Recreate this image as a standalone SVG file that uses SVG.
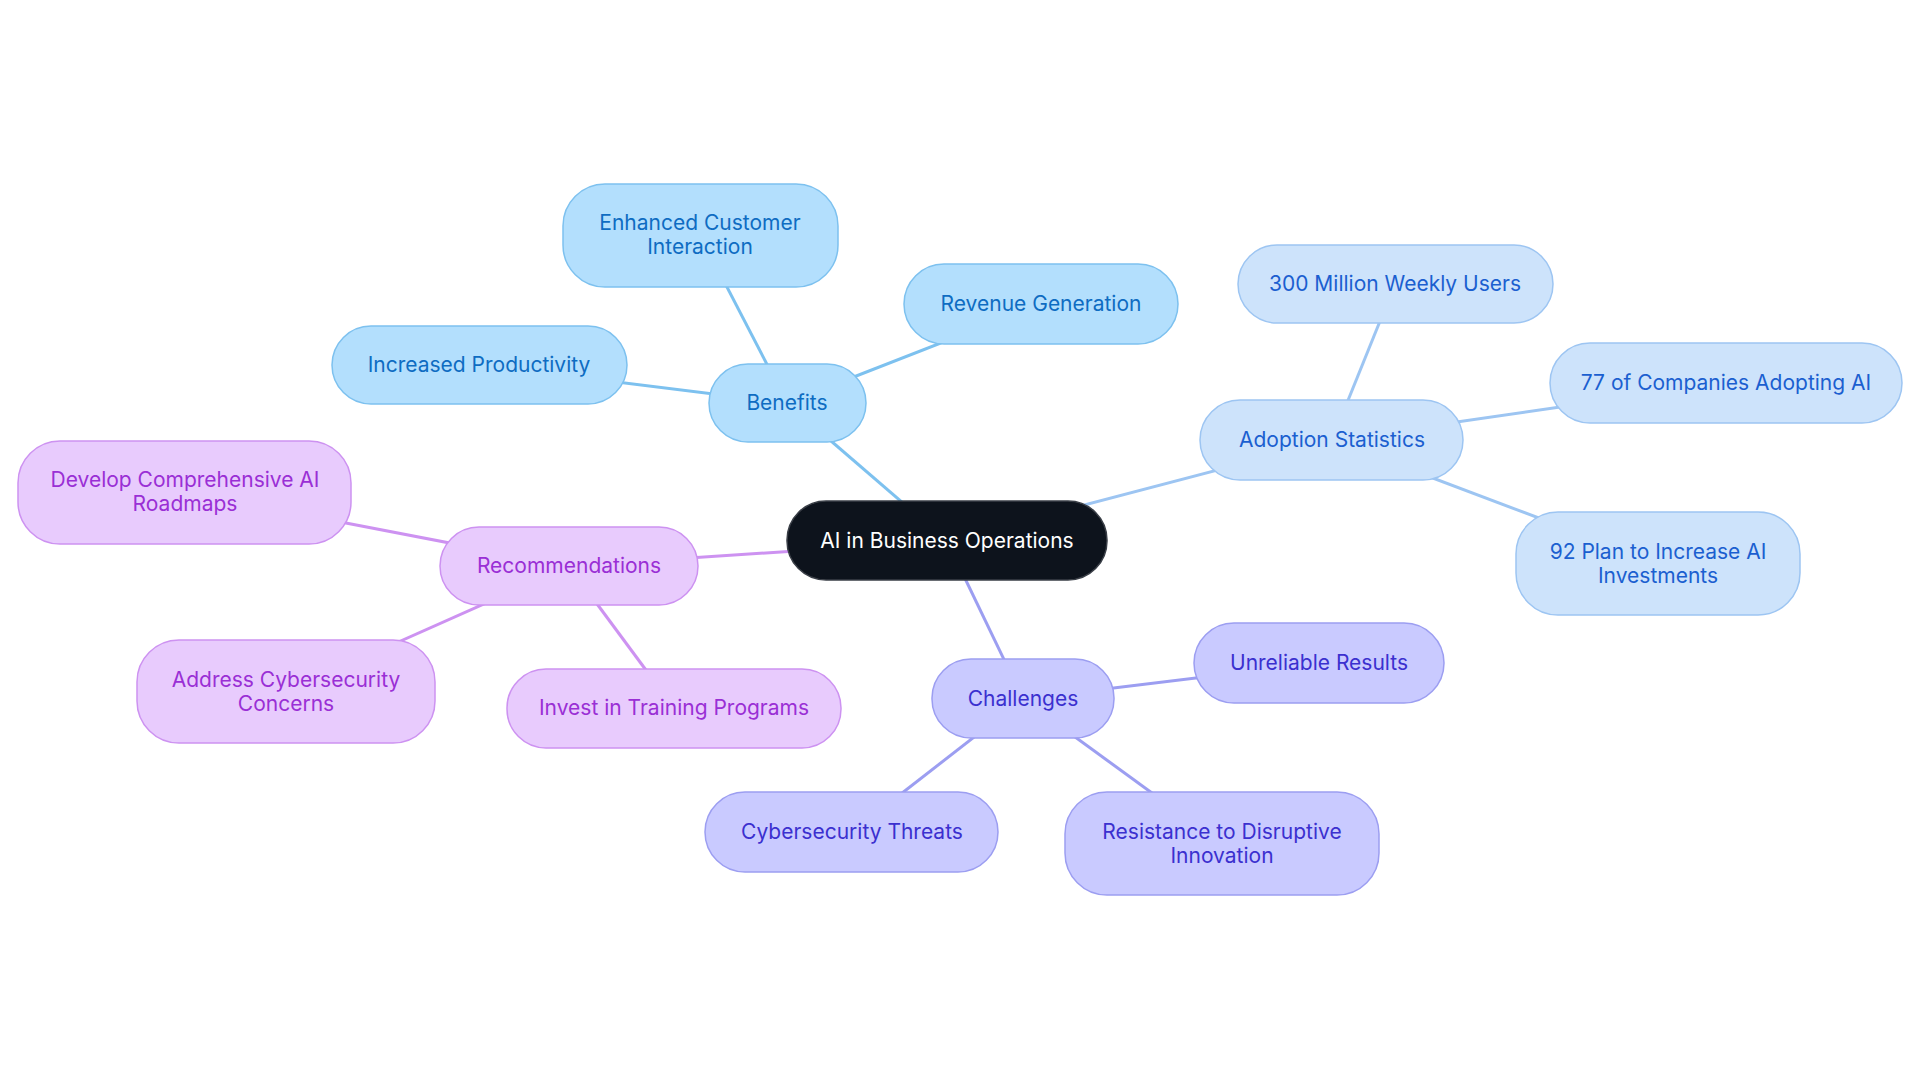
<svg xmlns="http://www.w3.org/2000/svg" width="1920" height="1083" viewBox="0 0 1920 1083">
<style>
text{font-family:Inter,"Noto Sans","Liberation Sans",sans-serif;font-size:21px;text-anchor:middle;dominant-baseline:central}
.b rect{fill:#b3dffd;stroke:#7dc1ef;stroke-width:1.5}
.b text{fill:#0e6cc2}
.a rect{fill:#cde3fb;stroke:#9dc5f2;stroke-width:1.5}
.a text{fill:#1b5fd0}
.r rect{fill:#e8cbfd;stroke:#cd92f1;stroke-width:1.5}
.r text{fill:#9a2fd5}
.c rect{fill:#c9caff;stroke:#9c9ef1;stroke-width:1.5}
.c text{fill:#3b30cf}
.m rect{fill:#0d131c;stroke:#3a3f47;stroke-width:1.5}
.m text{fill:#ffffff}
#connectors line{stroke-width:3;fill:none}
.lb{stroke:#7dc1ef}.la{stroke:#9dc5f2}.lr{stroke:#cd92f1}.lc{stroke:#9c9ef1}
</style>
<rect width="1920" height="1083" fill="#ffffff"/>
<g id="connectors">
<line class="lb" x1="947" y1="541" x2="787" y2="403"/>
<line class="lb" x1="787" y1="403" x2="700" y2="235"/>
<line class="lb" x1="787" y1="403" x2="1041" y2="304"/>
<line class="lb" x1="787" y1="403" x2="479" y2="365"/>
<line class="la" x1="947" y1="541" x2="1332" y2="440"/>
<line class="la" x1="1332" y1="440" x2="1395" y2="284"/>
<line class="la" x1="1332" y1="440" x2="1726" y2="383"/>
<line class="la" x1="1332" y1="440" x2="1658" y2="563"/>
<line class="lr" x1="947" y1="541" x2="569" y2="566"/>
<line class="lr" x1="569" y1="566" x2="185" y2="492"/>
<line class="lr" x1="569" y1="566" x2="286" y2="692"/>
<line class="lr" x1="569" y1="566" x2="674" y2="708"/>
<line class="lc" x1="947" y1="541" x2="1023" y2="699"/>
<line class="lc" x1="1023" y1="699" x2="1319" y2="663"/>
<line class="lc" x1="1023" y1="699" x2="852" y2="832"/>
<line class="lc" x1="1023" y1="699" x2="1222" y2="844"/>
</g>
<g id="center" class="m"><rect x="787" y="501" width="320" height="79" rx="39"/><text x="947" y="540">AI in Business Operations</text></g>
<g id="benefits" class="b"><rect x="709" y="364" width="157" height="78" rx="39"/><text x="787" y="402">Benefits</text></g>
<g id="enhanced" class="b"><rect x="563" y="184" width="275" height="103" rx="42"/><text x="700" y="222">Enhanced Customer</text><text x="700" y="246">Interaction</text></g>
<g id="revenue" class="b"><rect x="904" y="264" width="274" height="80" rx="40"/><text x="1041" y="303">Revenue Generation</text></g>
<g id="productivity" class="b"><rect x="332" y="326" width="295" height="78" rx="39"/><text x="479" y="364">Increased Productivity</text></g>
<g id="adoption" class="a"><rect x="1200" y="400" width="263" height="80" rx="40"/><text x="1332" y="439">Adoption Statistics</text></g>
<g id="users" class="a"><rect x="1238" y="245" width="315" height="78" rx="39"/><text x="1395" y="283">300 Million Weekly Users</text></g>
<g id="companies" class="a"><rect x="1550" y="343" width="352" height="80" rx="40"/><text x="1726" y="382">77 of Companies Adopting AI</text></g>
<g id="plan" class="a"><rect x="1516" y="512" width="284" height="103" rx="42"/><text x="1658" y="551">92 Plan to Increase AI</text><text x="1658" y="575">Investments</text></g>
<g id="recommendations" class="r"><rect x="440" y="527" width="258" height="78" rx="39"/><text x="569" y="565">Recommendations</text></g>
<g id="roadmaps" class="r"><rect x="18" y="441" width="333" height="103" rx="42"/><text x="185" y="479">Develop Comprehensive AI</text><text x="185" y="503">Roadmaps</text></g>
<g id="cyberconcerns" class="r"><rect x="137" y="640" width="298" height="103" rx="42"/><text x="286" y="679">Address Cybersecurity</text><text x="286" y="703">Concerns</text></g>
<g id="training" class="r"><rect x="507" y="669" width="334" height="79" rx="39"/><text x="674" y="707">Invest in Training Programs</text></g>
<g id="challenges" class="c"><rect x="932" y="659" width="182" height="79" rx="39"/><text x="1023" y="698">Challenges</text></g>
<g id="unreliable" class="c"><rect x="1194" y="623" width="250" height="80" rx="40"/><text x="1319" y="662">Unreliable Results</text></g>
<g id="threats" class="c"><rect x="705" y="792" width="293" height="80" rx="40"/><text x="852" y="831">Cybersecurity Threats</text></g>
<g id="resistance" class="c"><rect x="1065" y="792" width="314" height="103" rx="42"/><text x="1222" y="831">Resistance to Disruptive</text><text x="1222" y="855">Innovation</text></g>
</svg>
